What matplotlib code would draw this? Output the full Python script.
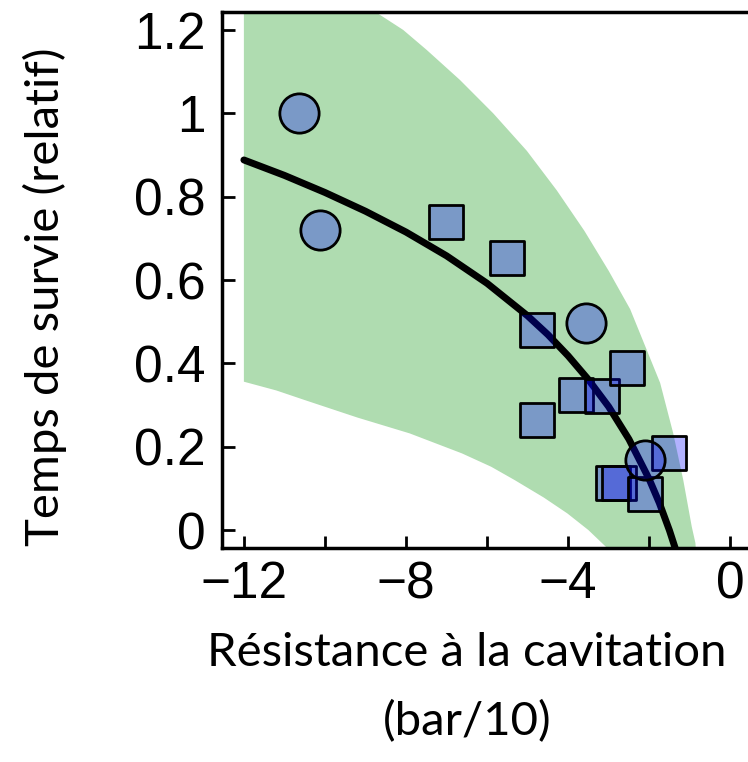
import numpy as np
import matplotlib
matplotlib.use("Agg")
import matplotlib.pyplot as plt

# points
circle_x = [-10.64, -10.12, -3.57, -2.11]
circle_y = [1.0, 0.72, 0.497, 0.168]

square_x = [-7.02, -5.52, -4.78, -4.78, -3.80, -3.16, -2.55, -1.50, -2.89, -2.74, -2.11]
square_y = [0.74, 0.653, 0.48, 0.264, 0.324, 0.322, 0.389, 0.185, 0.114, 0.114, 0.087]

# fitted trend line, read as points
curve_x = [-12, -11, -10, -9, -8, -7, -6, -5, -4.5, -4, -3.5, -3, -2.5, -2, -1.75, -1.5, -1.36]
curve_y = [0.888, 0.851, 0.810, 0.765, 0.715, 0.658, 0.592, 0.514, 0.469, 0.418, 0.361, 0.296, 0.218, 0.122, 0.065, -0.001, -0.043]

# shaded band: upper and lower boundaries
upper_x = [-9.3, -8.72, -8.07, -7.49, -6.67, -5.85, -5.02, -4.28, -3.6, -3.0, -2.47, -2.06, -1.73, -1.41, -1.16, -0.95, -0.86, -0.84]
upper_y = [1.30, 1.241, 1.200, 1.152, 1.080, 1.000, 0.910, 0.815, 0.718, 0.622, 0.530, 0.432, 0.353, 0.233, 0.120, 0.008, -0.031, -0.06]
lower_x = [-12, -11.2, -10.5, -9.2, -7.91, -6.62, -5.9, -5.32, -4.6, -4.02, -3.5, -3.07, -2.9]
lower_y = [0.356, 0.335, 0.312, 0.270, 0.232, 0.184, 0.152, 0.120, 0.078, 0.040, 0.0, -0.04, -0.06]

xticks = [-12, -10, -8, -6, -4, -2, 0]
xticklabels = ["\u221212", "", "\u22128", "", "\u22124", "", "0"]
yticks = [0, 0.2, 0.4, 0.6, 0.8, 1.0, 1.2]
yticklabels = ["0", "0.2", "0.4", "0.6", "0.8", "1", "1.2"]

W, H = 748, 762
fig = plt.figure(figsize=(W / 100, H / 100), dpi=100)
ax = fig.add_axes([222 / W, 1 - 548 / H, (770 - 222) / W, (548 - 12) / H])

band_x = [-12, -12] + upper_x + lower_x[::-1]
band_y = [lower_y[0], 1.30] + upper_y + lower_y[::-1]
ax.fill(band_x, band_y, color="#afdcb0", lw=0, zorder=1)
ax.plot(curve_x, curve_y, color="black", lw=5, solid_capstyle="round", zorder=3)

ax.scatter(square_x, square_y, marker="s", s=620, facecolor=(0, 0, 1, 0.3),
           edgecolor="black", linewidth=2, zorder=4)
ax.scatter(circle_x, circle_y, marker="o", s=800, facecolor=(0, 0, 1, 0.3),
           edgecolor="black", linewidth=2, zorder=4)

ax.set_xlim(-12.54, 0.98)
ax.set_ylim(-0.043, 1.243)

ax.set_xticks(xticks)
ax.set_xticklabels(xticklabels, family="Liberation Sans", fontsize=37)
ax.set_yticks(yticks)
ax.set_yticklabels(yticklabels, family="Liberation Sans", fontsize=37)
ax.tick_params(direction="in", length=9, width=2, pad=12)
ax.tick_params(axis="x", pad=9)

for s in ax.spines.values():
    s.set_linewidth(2.5)

fig.text(45 / W, 1 - 297 / H, "Temps de survie (relatif)", rotation=90,
         ha="center", va="center", family="Lato", fontsize=34)
fig.text(467 / W, 1 - 688 / H, "Résistance à la cavitation\n(bar/10)",
         ha="center", va="center", family="Lato", fontsize=34, linespacing=1.75)

fig.savefig("out.png", dpi=100)
